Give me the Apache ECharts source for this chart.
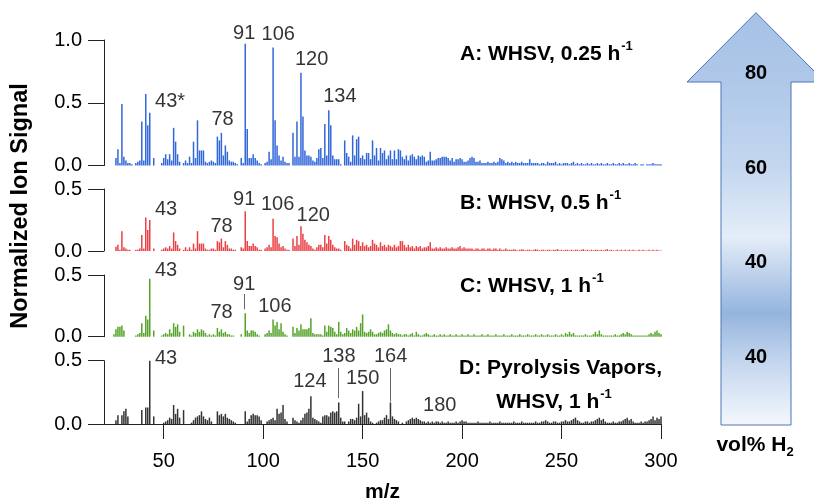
<!DOCTYPE html>
<html>
<head>
<meta charset="utf-8">
<title>Mass spectra vs WHSV</title>
<script src="https://cdn.jsdelivr.net/npm/echarts@6/dist/echarts.min.js"></script>
<style>
  html, body { margin: 0; padding: 0; background: #fff; }
  #chart { width: 814px; height: 504px; }
</style>
</head>
<body>
<div id="chart"></div>
<script>
// intensities for m/z 25 ... 300 (one value per integer m/z)
const mzStart = 25;

const sigA = [
  0, .06, .13, .02, .49, .07, .04, .02, .02, .01,
  0, .02, .03, .04, .35, .04, .57, .32, .42, 0,
  .06, 0, 0, 0, .02, .06, .09, .05, .09, .04,
  .30, .19, .09, .03, 0, .02, .04, .02, .07, .02,
  .19, .06, .36, .12, .12, .12, .03, .02, .03, .04,
  .03, .02, .23, .20, .26, .08, .16, .11, .04, .03,
  .03, .02, .01, 0, .06, .02, .97, .29, .06, .06,
  .09, .06, .04, .02, .01, 0, .02, .03, .11, .05,
  .94, .36, .16, .08, .04, .07, .03, .02, .02, 0,
  .26, .07, .35, .07, .74, .39, .12, .08, .08, .07,
  .04, .03, .06, .13, .14, .06, .33, .08, .44, .32,
  .08, .05, .05, .05, .01, 0, .20, .10, .07, .03,
  .24, .08, .21, .23, .06, .08, .05, .10, .10, .05,
  .20, .08, .14, .04, .14, .10, .12, .05, .08, .12,
  .05, .12, .05, .13, .12, .07, .05, .08, .04, .08,
  .09, .07, .05, .08, .07, .08, .07, .03, .04, .11,
  .04, .04, .05, .06, .06, .07, .07, .07, .06, .04,
  .06, .03, .05, .05, .06, .05, .03, .03, .04, .06,
  .07, .06, .03, .03, .04, .02, .02, .02, .03, .02,
  .02, .03, .02, .03, .06, .05, .04, .02, .03, .02,
  .03, .02, .03, .02, .02, .03, .02, .02, .02, .05,
  .02, .02, .02, .02, .01, .02, .02, .01, .03, .02,
  .02, .02, .03, .01, .02, .01, .02, .02, .02, .01,
  .02, .03, .01, .02, .01, .02, .01, .01, .02, .01,
  .02, .01, .01, .02, .01, .02, .01, .01, .02, .01,
  .01, .02, .01, .01, .02, .01, .02, .01, .01, .02,
  .01, .01, .02, .01, 0, .01, .01, 0, .01, .01,
  .01, .02, .01, .01, .01, .01
];

const sigB = [
  0, .035, .05, .01, .16, .03, .02, .01, .01, 0,
  0, .01, .01, .02, .13, .02, .27, .17, .25, 0,
  .02, 0, 0, 0, .01, .02, .03, .02, .04, .02,
  .15, .08, .05, .02, 0, .01, .03, .01, .03, .01,
  .06, .02, .16, .06, .06, .06, .02, .01, .01, .02,
  .02, .01, .08, .07, .10, .03, .08, .05, .02, .02,
  .01, .01, 0, 0, .03, .02, .32, .08, .04, .04,
  .06, .04, .03, .01, .01, 0, .02, .03, .05, .03,
  .26, .12, .11, .06, .03, .04, .02, .01, .01, 0,
  .10, .04, .12, .05, .20, .14, .09, .07, .05, .04,
  .02, .01, .03, .05, .05, .03, .13, .06, .12, .09,
  .05, .03, .02, .02, .01, 0, .08, .05, .04, .02,
  .10, .05, .09, .08, .04, .07, .04, .05, .03, .04,
  .09, .06, .05, .03, .07, .04, .05, .03, .05, .04,
  .03, .05, .03, .04, .08, .08, .05, .03, .05, .03,
  .04, .02, .04, .03, .04, .02, .03, .03, .04, .07,
  .02, .02, .03, .02, .03, .02, .02, .03, .02, .02,
  .03, .02, .02, .03, .04, .02, .03, .02, .02, .02,
  .02, .01, .02, .02, .01, .02, .02, .01, .02, .02,
  .01, .02, .02, .01, .02, .01, .01, .02, .01, .01,
  .01, .015, .01, .005, .01, .015, .01, .005, .01, .01,
  .005, .01, .015, .01, .005, .01, .01, .005, .01, .01,
  .005, .01, .01, .015, .005, .01, .005, .01, .01, .005,
  .01, .005, .01, .01, .005, .01, .015, .005, .01, .005,
  .01, .005, .01, .01, .005, .01, .005, .01, .015, .005,
  .01, .005, .005, .01, .005, .01, .005, .01, .005, .01,
  .005, .01, .005, .005, .01, .005, .01, .005, .005, .01,
  .005, .01, .005, .01, .005, .005
];

const sigC = [
  .02, .06, .08, .08, .09, .05, 0, 0, 0, 0,
  0, .01, .02, .03, .11, .03, .17, .14, .47, 0,
  .05, 0, 0, 0, .01, .02, .03, .02, .06, .03,
  .11, .08, .10, .04, 0, .09, 0, 0, .02, .01,
  .04, .03, .06, .04, .06, .05, .03, .01, .02, .01,
  .02, .01, .07, .04, .06, .03, .04, .02, .02, .01,
  .01, 0, 0, 0, .02, 0, .19, .05, .03, .05,
  .05, .04, .02, .01, 0, 0, .02, .03, .05, .03,
  .14, .09, .12, .06, .11, .04, .02, .01, 0, 0,
  .08, .03, .07, .05, .10, .06, .06, .06, .07, .15,
  .03, .02, .02, .02, .02, .01, .09, .04, .09, .08,
  .07, .04, .02, .12, .04, .02, .03, .07, .05, .03,
  .06, .05, .08, .05, .11, .18, .04, .03, .04, .06,
  .04, .02, .02, .03, .04, .03, .05, .06, .10, .05,
  .03, .02, .03, .02, .02, .01, .02, .02, .01, .02,
  .03, .01, .04, .02, .01, .01, .02, .03, .02, .01,
  .01, .02, .01, .01, .02, .01, .02, .01, .01, .02,
  .01, .01, .02, .01, .01, .02, .01, .01, .02, .01,
  .01, .02, .01, .01, .01, .02, .01, .01, .02, .01,
  .01, .01, .02, .01, .01, .01, .02, .01, .01, .01,
  .02, .01, .01, .01, .02, .01, .01, .01, .02, .01,
  .01, .01, .02, .01, .01, .02, .01, .01, .02, .01,
  .01, .01, .02, .01, .01, .02, .01, .03, .02, .04,
  .02, .03, .01, .01, .01, .01, .01, .02, .01, .01,
  .01, .02, .04, .02, .05, .02, .01, .01, .01, .01,
  .01, .01, .02, .01, .01, .02, .03, .02, .04, .03,
  .02, .01, .01, .01, .01, .01, .01, .01, .01, .02,
  .03, .02, .04, .05, .03, .02
];

const sigD = [
  0, .03, .07, 0, .07, .10, .12, .06, 0, 0,
  0, 0, 0, 0, .11, 0, .13, .13, .50, 0,
  .06, 0, 0, 0, 0, .01, .02, .03, .05, .04,
  .15, .08, .12, .05, 0, .11, 0, 0, 0, .01,
  .03, .05, .06, .07, .10, .06, .04, .03, .05, .02,
  0, 0, .10, .07, .08, .06, .08, .05, .04, .03,
  .02, .01, 0, 0, 0, 0, .10, .02, .04, .07,
  .08, .07, .07, .06, .03, 0, 0, .02, .03, .04,
  .05, .03, .12, .08, .09, .15, .04, .02, 0, 0,
  .05, .03, .02, .01, .03, .05, .08, .09, .12, .22,
  .05, .04, .03, .02, .01, .06, .07, .07, .06, .09,
  .10, .09, .10, .17, .05, .02, .02, 0, .02, .04,
  .04, .03, .05, .16, .06, .26, .07, .09, .05, .02,
  .01, 0, .01, .02, .03, .03, .05, .07, .04, .17,
  .06, .04, .03, .02, 0, .01, 0, .02, .03, .04,
  .05, .04, .05, .04, .03, .02, .02, .01, .02, .01,
  .02, .01, .02, .02, .01, .02, .01, .01, .02, .01,
  .01, .01, .02, .01, .02, .03, .02, .02, .01, .01,
  .01, .01, .01, .02, .01, .01, .01, .01, .01, .02,
  .01, .01, .01, .01, .02, .01, .01, .01, .01, .01,
  .01, .02, .01, .01, .01, .02, .01, .01, .01, .01,
  .01, .01, .02, .01, .01, .02, .02, .03, .02, .01,
  .01, .02, .02, .01, .01, .02, .02, .03, .02, .02,
  .03, .04, .05, .03, .02, .01, .01, .02, .02, .01,
  .02, .02, .03, .04, .05, .03, .04, .02, .01, .01,
  .01, .02, .01, .01, .02, .02, .03, .04, .05, .03,
  .04, .02, .01, .01, .01, .02, .01, .02, .02, .03,
  .04, .06, .03, .05, .04, .06
];

// peak labels: [m/z position, signal height, text]
const labelsA = [[53.2, 0.508, '43*'], [79.6, 0.37, '78'], [90.5, 1.053, '91'], [107.6, 1.04, '106'], [124.4, 0.846, '120'], [138.6, 0.548, '134']];
const labelsB = [[51.2, 0.336, '43'], [79.1, 0.20, '78'], [90.5, 0.417, '91'], [107.3, 0.377, '106'], [125.2, 0.29, '120']];
const labelsC = [[51.2, 0.54, '43'], [90.5, 0.427, '91'], [79.1, 0.194, '78'], [105.9, 0.243, '106']];
const labelsD = [[51.2, 0.519, '43'], [123.5, 0.334, '124'], [138.1, 0.532, '138'], [150, 0.361, '150'], [164.1, 0.532, '164'], [188.8, 0.15, '180']];
// leader lines: [m/z, y from, y to]
const leadersC = [[90.7, 0.346, 0.222]];
const leadersD = [[137.9, 0.442, 0.205], [164.1, 0.442, 0.176]];

const xTicks = [50, 100, 150, 200, 250, 300];
const h2Levels = ['80', '60', '40', '40'];

const FONT = '"Liberation Sans", Arial, sans-serif';

const panels = [
  { sig: sigA, color: '#3267d8', top: 40, height: 125.5, max: 1.0, labels: labelsA, leaders: [] },
  { sig: sigB, color: '#ea4045', top: 189, height: 62, max: 0.5, labels: labelsB, leaders: [] },
  { sig: sigC, color: '#55a32a', top: 275, height: 61.7, max: 0.5, labels: labelsC, leaders: leadersC },
  { sig: sigD, color: '#333333', top: 360.7, height: 63.3, max: 0.5, labels: labelsD, leaders: leadersD }
];

const grid = [], xAxis = [], yAxis = [], series = [];
panels.forEach((p, i) => {
  const last = i === panels.length - 1;
  grid.push({ left: 104, width: 557, top: p.top, height: p.height });
  xAxis.push({
    gridIndex: i, type: 'value', min: 20, max: 300, show: last,
    axisLine: { show: true, onZero: false, lineStyle: { color: '#222', width: 1 } },
    axisTick: { show: true, customValues: xTicks, length: 15, lineStyle: { color: '#222' } },
    axisLabel: { customValues: xTicks, fontSize: 20, color: '#000', margin: 27, fontFamily: FONT },
    splitLine: { show: false },
    name: last ? 'm/z' : '', nameLocation: 'middle', nameGap: 58,
    nameTextStyle: { fontSize: 21, fontWeight: 'bold', color: '#000', fontFamily: FONT }
  });
  yAxis.push({
    gridIndex: i, type: 'value', min: 0, max: p.max, interval: 0.5,
    axisLine: { show: true, onZero: false, lineStyle: { color: '#222', width: 1 } },
    axisTick: { show: true, length: 16, lineStyle: { color: '#222' } },
    axisLabel: { formatter: v => v.toFixed(1), fontSize: 20, color: '#000', margin: 22, fontFamily: FONT },
    splitLine: { show: false }
  });
  series.push({
    type: 'bar', xAxisIndex: i, yAxisIndex: i, barWidth: 1.5, silent: true,
    itemStyle: { color: p.color },
    data: p.sig.map((v, k) => [mzStart + k, v])
  });
  // peak labels (invisible points carrying text)
  series.push({
    type: 'scatter', xAxisIndex: i, yAxisIndex: i, symbolSize: 0, clip: false, silent: true,
    itemStyle: { color: '#000' },
    label: { show: true, position: 'inside', formatter: '{b}', fontSize: 20, color: '#000',
      textBorderWidth: 0, fontFamily: FONT },
    data: p.labels.map(l => ({ name: l[2], value: [l[0], l[1]] })),
    markLine: {
      silent: true, symbol: ['none', 'none'], label: { show: false },
      lineStyle: { color: '#666', width: 1, type: 'solid' },
      data: p.leaders.map(l => [{ coord: [l[0], l[1]] }, { coord: [l[0], l[2]] }])
    }
  });
});

const titleRich = {
  m: { fontSize: 21, fontWeight: 'bold', fontFamily: FONT, fill: '#000', lineHeight: 28 },
  s: { fontSize: 13, fontWeight: 'bold', fontFamily: FONT, fill: '#000', verticalAlign: 'top', lineHeight: 10, padding: [0, 0, 0, 1] }
};
function title(x, y, txt, align) {
  return { type: 'text', x: x, y: y, z: 10,
    style: { text: txt, rich: titleRich, align: align || 'left', verticalAlign: 'middle' } };
}

const graphic = [
  { type: 'text', x: 21, y: 206, rotation: Math.PI / 2,
    style: { text: 'Normalized Ion Signal', fontSize: 23.5, fontWeight: 'bold', fontFamily: FONT,
      fill: '#000', align: 'center', verticalAlign: 'middle' } },
  title(460, 54, '{m|A: WHSV, 0.25 h}{s|-1}'),
  title(460, 203, '{m|B: WHSV, 0.5 h}{s|-1}'),
  title(460, 286, '{m|C: WHSV, 1 h}{s|-1}'),
  title(459, 368, '{m|D: Pyrolysis Vapors,}'),
  title(554, 402, '{m|WHSV, 1 h}{s|-1}', 'center'),
  // H2 arrow
  { type: 'polygon', z: 5,
    shape: { points: [[756, 12.7], [825, 82], [791, 82], [791, 425], [721, 425], [721, 82], [687, 82]] },
    style: {
      fill: new echarts.graphic.LinearGradient(0, 0, 0, 1, [
        { offset: 0, color: '#a6c1e6' },
        { offset: 0.168, color: '#afc8e9' },
        { offset: 0.377, color: '#c4d7ef' },
        { offset: 0.544, color: '#e4edf8' },
        { offset: 0.728, color: '#95b4de' },
        { offset: 0.842, color: '#c2d5ee' },
        { offset: 1, color: '#f5f8fd' }
      ]),
      stroke: '#4a76b5', lineWidth: 1
    } },
  { type: 'text', x: 755, y: 445, z: 10,
    style: { text: '{m|vol% H}{d|2}', align: 'center', verticalAlign: 'middle',
      rich: {
        m: { fontSize: 21, fontWeight: 'bold', fontFamily: FONT, fill: '#000', lineHeight: 28 },
        d: { fontSize: 13, fontWeight: 'bold', fontFamily: FONT, fill: '#000', verticalAlign: 'bottom', lineHeight: 10 }
      } } }
];
[73, 168, 262, 357].forEach((y, k) => {
  graphic.push({ type: 'text', x: 756, y: y, z: 10,
    style: { text: h2Levels[k], fontSize: 20, fontWeight: 'bold', fontFamily: FONT, fill: '#000',
      align: 'center', verticalAlign: 'middle' } });
});

const chart = echarts.init(document.getElementById('chart'));
chart.setOption({
  animation: false,
  backgroundColor: '#fff',
  grid: grid, xAxis: xAxis, yAxis: yAxis, series: series, graphic: graphic
});
</script>
</body>
</html>
